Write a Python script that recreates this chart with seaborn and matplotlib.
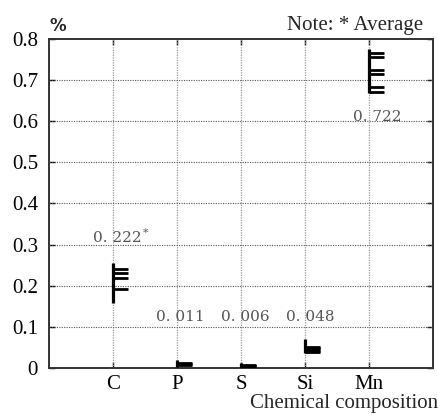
import matplotlib
matplotlib.use('Agg')
import matplotlib.pyplot as plt
import seaborn as sns

# chemical composition, % (range bar + individual sample values)
elements = ['C', 'P', 'S', 'Si', 'Mn']
range_low = [0.157, 0.002, 0.000, 0.036, 0.668]
range_high = [0.255, 0.019, 0.012, 0.070, 0.776]
samples = [
    [0.241, 0.230, 0.220, 0.191],
    [0.011, 0.009, 0.007],
    [0.008, 0.006, 0.004],
    [0.051, 0.048, 0.045, 0.042, 0.039],
    [0.765, 0.757, 0.725, 0.714, 0.684, 0.672],
]
avg_labels = ['0. 222', '0. 011', '0. 006', '0. 048', '0. 722']
y_ticks = [0, 0.1, 0.2, 0.3, 0.4, 0.5, 0.6, 0.7, 0.8]
y_ticklabels = ['0', '0.1', '0.2', '0.3', '0.4', '0.5', '0.6', '0.7', '0.8']

sns.set_theme(style='ticks')
plt.rcParams['font.family'] = ['Liberation Serif', 'DejaVu Serif']

fig = plt.figure(figsize=(4.39, 4.17), dpi=100)
ax = fig.add_axes([0.1116, 0.1175, 0.8747, 0.789])

xs = list(range(1, len(elements) + 1))
tick_len = 0.24

# grid
for x in xs:
    ax.axvline(x, color='#999999', lw=0.9, ls=(0, (1, 1)), zorder=1)
for y in y_ticks[1:-1]:
    ax.axhline(y, color='#555555', lw=0.8, ls=(0, (1, 1.2)), zorder=1)

# range bars and sample ticks
ax.vlines(xs, range_low, range_high, color='black', lw=2.3, zorder=3)
for x, vals in zip(xs, samples):
    ax.hlines(vals, x, x + tick_len, color='black', lw=2.0, zorder=3)

# average labels
label_pos = [(1.06, 0.316), (2.05, 0.125), (3.06, 0.125), (4.08, 0.125), (5.125, 0.611)]
for (lx, ly), txt in zip(label_pos, avg_labels):
    ax.text(lx, ly, txt, ha='center', va='center', fontsize=11,
            family=['DejaVu Serif'], color='#555555', zorder=4)
ax.text(1.47, 0.329, '*', ha='left', va='center', fontsize=8,
        family=['DejaVu Serif'], color='#555555')

ax.set_xlim(0, 6)
ax.set_ylim(0, 0.8)
ax.set_xticks(xs)
ax.set_xticklabels(elements, fontsize=15)
ax.set_yticks(y_ticks)
ax.set_yticklabels(y_ticklabels, fontsize=15)
ax.tick_params(direction='in', length=4, width=1, top=True, right=True,
               colors='black', labelcolor='black')
ax.tick_params(axis='x', pad=5)
ax.tick_params(axis='y', pad=8)
for s in ax.spines.values():
    s.set_visible(True)
    s.set_linewidth(1.4)
    s.set_color('#333333')

ax.set_xlabel('Chemical composition', fontsize=15, loc='right')
ax.xaxis.set_label_coords(1.013, -0.078)
ax.text(0.022, 1.012, '%', transform=ax.transAxes, fontsize=12,
        family=['DejaVu Sans'], fontweight='bold', ha='center', va='bottom')
ax.text(0.975, 1.012, 'Note: * Average', transform=ax.transAxes, fontsize=15,
        ha='right', va='bottom')

fig.savefig('out.png', dpi=100)
